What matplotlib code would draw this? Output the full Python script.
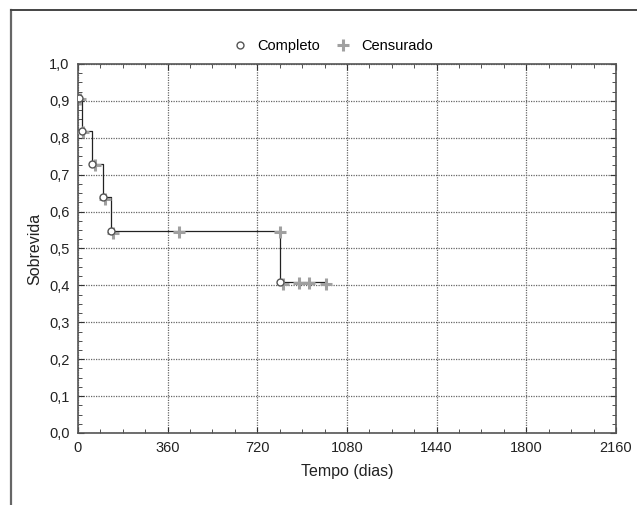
import matplotlib.pyplot as plt
from matplotlib.lines import Line2D
from matplotlib.ticker import MultipleLocator, FuncFormatter

plt.rcParams['font.family'] = ['Liberation Sans', 'DejaVu Sans']

# step curve (Kaplan-Meier)
step_t = [4, 18, 58, 100, 132, 812, 995]
step_s = [0.908, 0.818, 0.730, 0.640, 0.547, 0.410, 0.410]

# complete (event) observations
comp_t = [4, 18, 58, 100, 132, 812]
comp_s = [0.908, 0.818, 0.730, 0.640, 0.547, 0.410]

# censored observations
cens_t = [10, 22, 68, 108, 140, 405, 810, 822, 888, 927, 995]
cens_s = [0.905, 0.815, 0.725, 0.634, 0.542, 0.545, 0.545, 0.405, 0.407, 0.407, 0.405]

fig = plt.figure(figsize=(6.37, 5.05), dpi=100)
ax = fig.add_axes([0.1224, 0.1426, 0.8446, 0.7307])

ax.step(step_t, step_s, where='post', color='#222222', lw=0.9, zorder=3)
ax.plot(cens_t, cens_s, '+', color='#a0a0a0', ms=9, mew=2.2, ls='none',
        label='Censurado', zorder=4)
ax.plot(comp_t, comp_s, 'o', mfc='white', mec='#555555', ms=5, mew=1.0,
        ls='none', label='Completo', zorder=5)

ax.set_xlim(0, 2160)
ax.set_ylim(0, 1.0)
ax.xaxis.set_major_locator(MultipleLocator(360))
ax.xaxis.set_minor_locator(MultipleLocator(90))
ax.yaxis.set_major_locator(MultipleLocator(0.1))
ax.yaxis.set_minor_locator(MultipleLocator(0.025))
ax.yaxis.set_major_formatter(FuncFormatter(lambda v, p: f'{v:.1f}'.replace('.', ',')))

ax.tick_params(which='both', direction='in', top=True, right=True,
               colors='#333333', labelsize=10.5, labelcolor='#222222')
ax.tick_params(which='major', length=4, pad=6)
ax.tick_params(which='minor', length=3)
for sp in ax.spines.values():
    sp.set_color('#555555')
    sp.set_linewidth(1.2)

ax.grid(True, which='major', ls=(0, (1, 1)), color='#666666', lw=0.9)

ax.set_xlabel('Tempo (dias)', fontsize=11.5, color='#222222', labelpad=6)
ax.set_ylabel('Sobrevida', fontsize=11.5, color='#222222', labelpad=5)

handles, labels = ax.get_legend_handles_labels()
ax.legend(handles[::-1], labels[::-1], loc='lower center', bbox_to_anchor=(0.472, 0.995),
          ncol=2, frameon=False, fontsize=10.5, handletextpad=0.6, columnspacing=1.0,
          handlelength=1.2)

# partial outer frame
fig.add_artist(Line2D([0.0173, 0.0173], [0.0, 0.980], color='#666666', lw=1.6))
fig.add_artist(Line2D([0.0173, 1.0], [0.980, 0.980], color='#444444', lw=1.4))

fig.savefig('out.png', dpi=100)
